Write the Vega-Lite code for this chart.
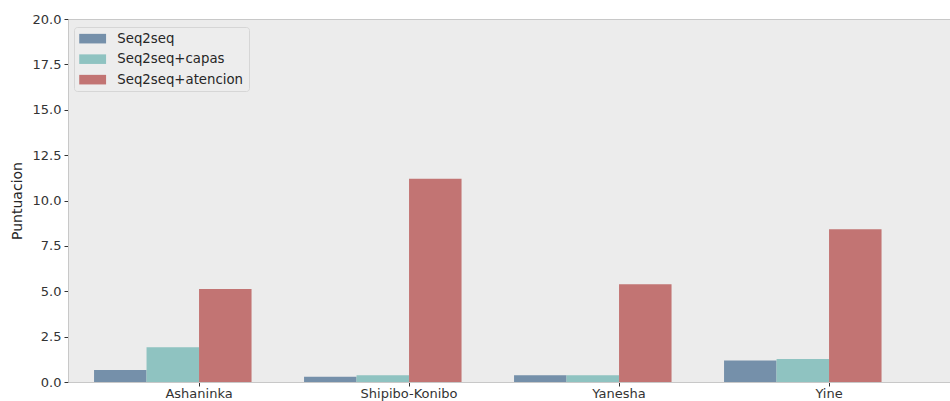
{
  "$schema": "https://vega.github.io/schema/vega-lite/v6.json",
  "autosize": {"type": "none"},
  "padding": {"left": 68, "top": 19, "right": 0, "bottom": 19},
  "width": 882,
  "height": 363,
  "background": "white",
  "config": {
    "font": "DejaVu Sans",
    "view": {"fill": "#ececec", "stroke": "#c8c8c8", "strokeWidth": 1},
    "axis": {
      "grid": false,
      "domainColor": "#c8c8c8",
      "tickColor": "#333333",
      "labelColor": "#333333",
      "labelFont": "DejaVu Sans",
      "labelFontSize": 13,
      "titleFont": "DejaVu Sans",
      "titleFontWeight": "normal",
      "titleColor": "#262626"
    }
  },
  "data": {
    "values": [
      {"idioma": "Ashaninka", "modelo": "Seq2seq", "puntuacion": 0.66},
      {"idioma": "Ashaninka", "modelo": "Seq2seq+capas", "puntuacion": 1.92},
      {"idioma": "Ashaninka", "modelo": "Seq2seq+atencion", "puntuacion": 5.13},
      {"idioma": "Shipibo-Konibo", "modelo": "Seq2seq", "puntuacion": 0.29},
      {"idioma": "Shipibo-Konibo", "modelo": "Seq2seq+capas", "puntuacion": 0.37},
      {"idioma": "Shipibo-Konibo", "modelo": "Seq2seq+atencion", "puntuacion": 11.2},
      {"idioma": "Yanesha", "modelo": "Seq2seq", "puntuacion": 0.37},
      {"idioma": "Yanesha", "modelo": "Seq2seq+capas", "puntuacion": 0.37},
      {"idioma": "Yanesha", "modelo": "Seq2seq+atencion", "puntuacion": 5.38},
      {"idioma": "Yine", "modelo": "Seq2seq", "puntuacion": 1.19},
      {"idioma": "Yine", "modelo": "Seq2seq+capas", "puntuacion": 1.27},
      {"idioma": "Yine", "modelo": "Seq2seq+atencion", "puntuacion": 8.41}
    ]
  },
  "mark": {"type": "bar"},
  "encoding": {
    "x": {
      "field": "idioma",
      "type": "nominal",
      "sort": null,
      "scale": {"paddingInner": 0, "paddingOuter": 0.1, "align": 0.62},
      "axis": {"title": null, "labelAngle": 0, "tickSize": 4, "labelPadding": 1, "domain": true}
    },
    "xOffset": {
      "field": "modelo",
      "type": "nominal",
      "scale": {"domain": ["Seq2seq", "Seq2seq+capas", "Seq2seq+atencion", "_"], "paddingInner": 0, "paddingOuter": 0}
    },
    "y": {
      "field": "puntuacion",
      "type": "quantitative",
      "scale": {"domain": [0, 20], "nice": false, "zero": true},
      "axis": {
        "title": "Puntuacion",
        "titleFontSize": 14,
        "titlePadding": 8,
        "values": [0, 2.5, 5, 7.5, 10, 12.5, 15, 17.5, 20],
        "format": ".1f",
        "tickSize": 4,
        "labelPadding": 3
      }
    },
    "color": {
      "field": "modelo",
      "type": "nominal",
      "scale": {
        "domain": ["Seq2seq", "Seq2seq+capas", "Seq2seq+atencion"],
        "range": ["#7590aa", "#8fc3c1", "#c27473"]
      },
      "legend": {
        "title": null,
        "orient": "none",
        "legendX": 6,
        "legendY": 8,
        "direction": "vertical",
        "fillColor": "#ededed",
        "strokeColor": "#d6d6d6",
        "cornerRadius": 3,
        "padding": 5,
        "labelFont": "DejaVu Sans",
        "labelFontSize": 13.3,
        "labelColor": "#262626",
        "symbolType": "M-2.8,-1L2.8,-1L2.8,1L-2.8,1Z",
        "symbolSize": 92,
        "symbolStrokeWidth": 0,
        "symbolOpacity": 1,
        "symbolOffset": 7,
        "labelOffset": 18,
        "rowPadding": 6.5
      }
    }
  }
}
